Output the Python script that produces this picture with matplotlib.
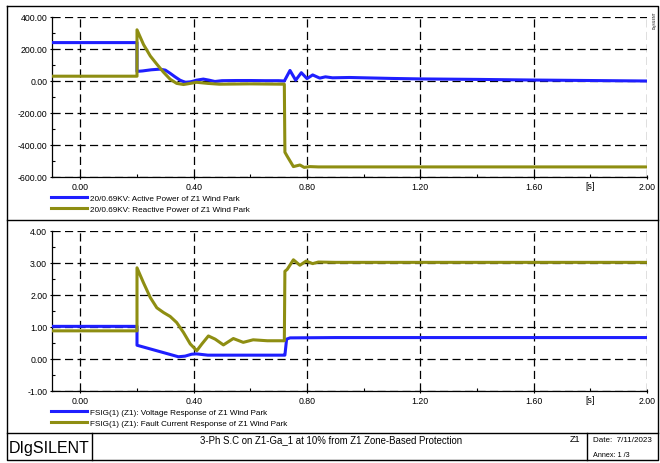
import matplotlib
matplotlib.use("Agg")
import matplotlib.pyplot as plt
from matplotlib.ticker import MultipleLocator, FormatStrFormatter

plt.rcParams['font.family'] = ['Liberation Sans', 'DejaVu Sans']

# top panel: active / reactive power of the Z1 wind park
t_p = [-0.1, 0.2, 0.2, 0.22, 0.25, 0.28, 0.30, 0.317, 0.335, 0.352, 0.37, 0.39, 0.41,
       0.434, 0.455, 0.475, 0.50, 0.55, 0.60, 0.65, 0.70, 0.72, 0.74, 0.76, 0.78, 0.80,
       0.82, 0.845, 0.865, 0.89, 0.95, 1.0, 1.1, 1.2, 1.4, 1.6, 1.8, 2.0]
p_active = [240, 240, 60, 63, 70, 74, 68, 48, 25, 5, -8, -5, 5,
            12, 5, -3, 2, 3, 3, 2, 2, 0, 66, 5, 52, 15,
            38, 18, 26, 20, 22, 20, 16, 13, 10, 6, 3, 0]

t_q = [-0.1, 0.2, 0.2, 0.223, 0.247, 0.27, 0.294, 0.317, 0.34, 0.364, 0.388, 0.41,
       0.45, 0.49, 0.6, 0.72, 0.722, 0.73, 0.752, 0.775, 0.79, 0.81, 0.84, 0.9,
       1.2, 1.6, 2.0]
q_reactive = [30, 30, 320, 228, 156, 105, 54, 11, -15, -22, -15, -8,
              -15, -20, -18, -20, -445, -470, -535, -525, -540, -535, -537, -537,
              -537, -537, -537]

# bottom panel: voltage / fault current response
t_v = [-0.1, 0.2, 0.2, 0.346, 0.37, 0.393, 0.41, 0.45, 0.5, 0.6, 0.72, 0.722,
       0.728, 0.74, 0.9, 1.2, 1.6, 2.0]
voltage = [1.02, 1.02, 0.43, 0.07, 0.09, 0.15, 0.16, 0.12, 0.12, 0.12, 0.12, 0.12,
           0.62, 0.66, 0.67, 0.67, 0.67, 0.67]

t_i = [-0.1, 0.2, 0.2, 0.223, 0.247, 0.27, 0.294, 0.317, 0.34, 0.364, 0.388, 0.411,
       0.429, 0.452, 0.476, 0.505, 0.54, 0.575, 0.61, 0.66, 0.72, 0.722, 0.73,
       0.752, 0.775, 0.797, 0.82, 0.84, 0.9, 1.2, 1.6, 2.0]
current = [0.88, 0.88, 2.85, 2.38, 1.92, 1.6, 1.45, 1.33, 1.14, 0.83, 0.47, 0.26,
           0.47, 0.72, 0.62, 0.44, 0.64, 0.52, 0.6, 0.57, 0.57, 2.74, 2.8,
           3.1, 2.93, 3.06, 2.98, 3.03, 3.02, 3.02, 3.02, 3.02]

top_labels = ['20/0.69KV: Active Power of Z1 Wind Park',
              '20/0.69KV: Reactive Power of Z1 Wind Park']
bottom_labels = ['FSIG(1) (Z1): Voltage Response of Z1 Wind Park',
                 'FSIG(1) (Z1): Fault Current Response of Z1 Wind Park']
title_text = '3-Ph S.C on Z1-Ga_1 at 10% from Z1 Zone-Based Protection'

BLUE = '#1f1fff'
OLIVE = '#8e8e12'
FS = 6.3      # tick labels
FS_LEG = 5.9  # legend entries
LW = 2.2
W, H = 660, 464

fig = plt.figure(figsize=(6.6, 4.64), dpi=100)

# page frame / title block drawn in pixel coordinates
bg = fig.add_axes([0, 0, 1, 1], zorder=-1)
bg.set_xlim(0, W)
bg.set_ylim(H, 0)
bg.axis('off')
frame = dict(color='black', lw=1.0)
bg.plot([7, 658, 658, 7, 7], [7, 7, 461, 461, 7], **frame)
bg.plot([7, 658], [221, 221], **frame)
bg.plot([7, 658], [434, 434], **frame)
bg.plot([92, 92], [434, 461], **frame)
bg.plot([587, 587], [434, 461], **frame)
bg.text(49, 449, 'DIgSILENT', fontsize=11.5, ha='center', va='center')
bg.text(331, 440, title_text, fontsize=6.9, ha='center', va='center')
bg.text(580, 440, 'Z1', fontsize=6.6, ha='right', va='center')
bg.text(593, 441, 'Date:  7/11/2023', fontsize=5.8, ha='left', va='center')
bg.text(593, 456, 'Annex: 1 /3', fontsize=5.2, ha='left', va='center')
bg.text(655, 20, 'DIgSILENT', fontsize=2.5, rotation=90, ha='center', va='center')


def style_axes(ax, ymin, ymax, ystep):
    ax.set_xlim(-0.1, 2.0)
    ax.set_ylim(ymin, ymax)
    ax.xaxis.set_major_locator(MultipleLocator(0.4))
    ax.xaxis.set_minor_locator(MultipleLocator(0.2))
    ax.yaxis.set_major_locator(MultipleLocator(ystep))
    ax.yaxis.set_minor_locator(MultipleLocator(ystep / 2))
    ax.xaxis.set_major_formatter(FormatStrFormatter('%.2f'))
    ax.yaxis.set_major_formatter(FormatStrFormatter('%.2f'))
    ax.tick_params(axis='both', which='major', labelsize=FS, length=3, width=0.8,
                   direction='inout', pad=2)
    ax.tick_params(axis='both', which='minor', length=2.5, width=0.8, direction='in')
    ax.grid(True, which='major', color='black', linestyle=(0, (6.5, 3.5)), lw=0.9)
    for side in ('top', 'right'):
        ax.spines[side].set_visible(False)
    for side in ('left', 'bottom'):
        ax.spines[side].set_linewidth(0.9)
    ax.text(1.8, -0.055, '[s]', transform=ax.get_xaxis_transform(),
            fontsize=FS, ha='center', va='center')


def add_legend(ax, lines, labels):
    ax.legend(lines, labels, loc='upper left', bbox_to_anchor=(-0.001, -0.105),
              frameon=False, fontsize=FS_LEG, handlelength=4.3, handletextpad=0.35,
              labelspacing=0.4, borderaxespad=0, borderpad=0)


ax1 = fig.add_axes([52 / W, 1 - 178 / H, 595 / W, 160 / H])
l1, = ax1.plot(t_p, p_active, color=BLUE, lw=LW, zorder=3)
l2, = ax1.plot(t_q, q_reactive, color=OLIVE, lw=LW, zorder=3)
style_axes(ax1, -600, 400, 200)
add_legend(ax1, [l1, l2], top_labels)

ax2 = fig.add_axes([52 / W, 1 - 392 / H, 595 / W, 160 / H])
l3, = ax2.plot(t_v, voltage, color=BLUE, lw=LW, zorder=3)
l4, = ax2.plot(t_i, current, color=OLIVE, lw=LW, zorder=3)
style_axes(ax2, -1, 4, 1)
add_legend(ax2, [l3, l4], bottom_labels)

fig.savefig('out.png', dpi=100)
